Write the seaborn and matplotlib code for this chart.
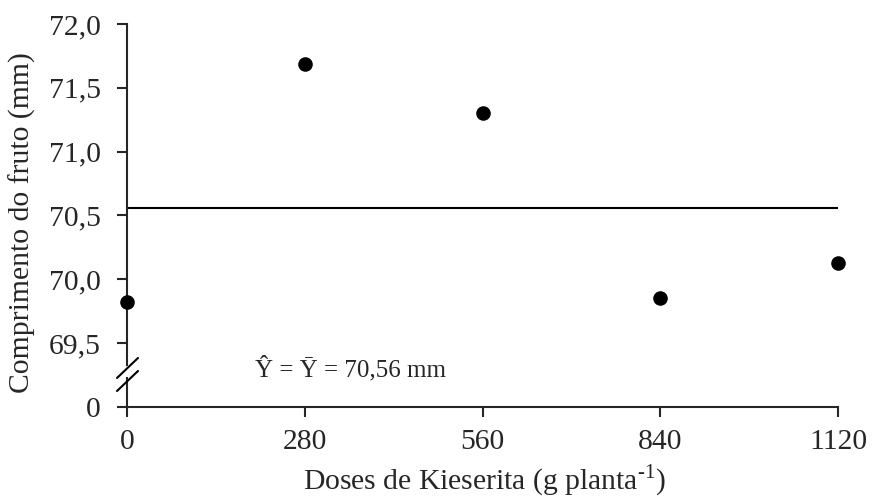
import numpy as np
import pandas as pd
import matplotlib
matplotlib.use("Agg")
import matplotlib.pyplot as plt
import seaborn as sns

# Kieserite doses (g per plant) and mean fruit length (mm)
doses = [0, 280, 560, 840, 1120]
fruit_length = [69.82, 71.69, 71.30, 69.85, 70.13]
mean_length = 70.56
y_ticks = [69.5, 70.0, 70.5, 71.0, 71.5, 72.0]
x_ticks = [0, 280, 560, 840, 1120]

sns.set_style("ticks")
plt.rcParams["font.family"] = ["Liberation Serif", "DejaVu Serif"]
plt.rcParams["mathtext.fontset"] = "custom"
plt.rcParams["mathtext.rm"] = "Liberation Serif"
plt.rcParams["axes.linewidth"] = 1.5

df = pd.DataFrame({"dose": doses, "length": fruit_length})
mean_df = pd.DataFrame({"dose": [x_ticks[0], x_ticks[-1]],
                        "length": [mean_length, mean_length]})

W, H = 872, 501
FS = 21.3
fig = plt.figure(figsize=(W / 100, H / 100), dpi=100)

def frac(left, top, right, bottom):
    return [left / W, 1 - bottom / H, (right - left) / W, (bottom - top) / H]

ax = fig.add_axes(frac(127, 24, 838, 365))
ax_low = fig.add_axes(frac(127, 378, 838, 407), sharex=ax)

sns.lineplot(data=mean_df, x="dose", y="length", ax=ax, color="black",
             linewidth=1.5)
sns.scatterplot(data=df, x="dose", y="length", ax=ax, color="black",
                s=110, edgecolor="black", linewidth=0, clip_on=False, zorder=5)

ax.set_xlim(0, 1120)
ax.set_ylim(69.328, 72.0)
ax.set_yticks(y_ticks)
ax.set_yticklabels([f"{v:.1f}".replace(".", ",") for v in y_ticks])
for s in ["top", "right", "bottom"]:
    ax.spines[s].set_visible(False)
ax.tick_params(axis="x", which="both", bottom=False, labelbottom=False)
ax.tick_params(axis="y", labelsize=FS, length=7, width=1.5, pad=12)
ax.set_xlabel("")
ax.set_ylabel("")

ax_low.set_ylim(0, 1)
ax_low.set_yticks([0])
ax_low.set_yticklabels(["0"])
ax_low.set_xticks(x_ticks)
ax_low.set_xticklabels([str(v) for v in x_ticks])
for s in ["top", "right"]:
    ax_low.spines[s].set_visible(False)
ax_low.tick_params(axis="both", labelsize=FS, length=7, width=1.5)
ax_low.tick_params(axis="y", pad=12)
ax_low.tick_params(axis="x", pad=9)
ax_low.patch.set_alpha(0)

# Break marks on the y axis
for yc in (368, 381):
    x0, x1 = 117 / W, 138 / W
    fig.add_artist(plt.Line2D([x0, x1], [1 - (yc + 10) / H, 1 - (yc - 10) / H],
                              color="black", linewidth=1.5))

fig.text(255 / W, 1 - 369 / H, "Ŷ = Ȳ = 70,56 mm", fontsize=18,
         va="center", ha="left")
fig.text(22 / W, 1 - 223 / H, "Comprimento do fruto (mm)", fontsize=FS,
         rotation=90, va="center", ha="center")
fig.text(484 / W, 1 - 481 / H, r"Doses de Kieserita (g planta$^{\text{-1}}$)",
         fontsize=FS, va="center", ha="center")

fig.savefig("out.png", dpi=100)
